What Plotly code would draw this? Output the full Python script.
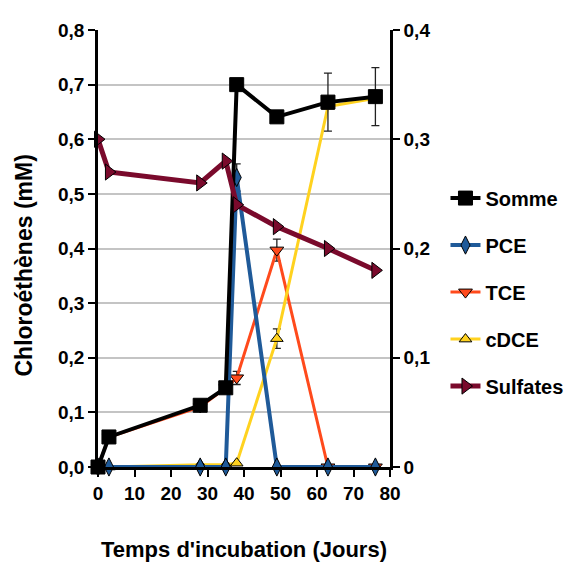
import plotly.graph_objects as go

# incubation days
days = [0, 3, 28, 35, 38, 49, 63, 76]

# chloroethenes (mM), left axis
somme = [0.0, 0.055, 0.113, 0.145, 0.70, 0.641, 0.668, 0.678]
pce = [0.0, 0.0, 0.0, 0.0, 0.53, 0.0, 0.0, 0.0]
tce = [0.0, 0.055, 0.110, 0.145, 0.163, 0.397, 0.0, 0.0]
cdce = [0.0, 0.0, 0.004, 0.004, 0.007, 0.235, 0.660, 0.675]

# error bars
somme_err = [None, None, None, None, None, None, 0.053, 0.053]
pce_err = [None, None, None, None, 0.025, None, None, None]
tce_err = [None, None, None, None, 0.012, 0.02, 0.0, 0.0]
cdce_err = [None, None, None, None, None, 0.018, None, None]

# sulfates, right axis
sulfates = [0.30, 0.27, 0.26, 0.28, 0.24, 0.22, 0.20, 0.18]

FONT = "Liberation Sans, Arial, sans-serif"


def make_trace(y, name, color, symbol, size, width, rank, err=None, yaxis="y"):
    tr = go.Scatter(
        x=days, y=y, name=name, mode="lines+markers",
        line=dict(color=color, width=width),
        marker=dict(symbol=symbol, size=size, color=color,
                    line=dict(color="black", width=1)),
        legendrank=rank, legendgroup=name, yaxis=yaxis,
        cliponaxis=False,
    )
    if err is not None:
        tr.error_y = dict(type="data", array=err, visible=True,
                          color="#222222", thickness=1.3, width=4)
    return tr


fig = go.Figure()
fig.add_trace(make_trace(tce, "TCE", "#FF4A1C", "triangle-down", 12, 3, 3, tce_err))
fig.add_trace(make_trace(cdce, "cDCE", "#FFD21F", "triangle-up", 11, 3, 4, cdce_err))
fig.add_trace(make_trace(pce, "PCE", "#1F5A99", "diamond-tall", 13, 4, 2, pce_err))
fig.add_trace(make_trace(somme, "Somme", "black", "square", 14, 4, 1, somme_err))
fig.add_trace(make_trace(sulfates, "Sulfates", "#7A0A2C", "triangle-right", 14, 5, 5, yaxis="y2"))

# y title placed as annotation (it sits a little below the plot centre)
fig.add_annotation(
    text="Chloroéthènes (mM)", textangle=-90, showarrow=False,
    xref="paper", yref="paper", x=-0.255, y=0.46,
    xanchor="center", yanchor="middle",
    font=dict(size=23, family=FONT, color="black", weight="bold"),
)

fig.update_layout(
    width=573, height=565,
    margin=dict(l=90, r=174, t=22, b=106),
    paper_bgcolor="white", plot_bgcolor="white",
    separators=",.",
    font=dict(family=FONT, size=19, color="black", weight="bold"),
    xaxis=dict(
        range=[0, 80], tickvals=list(range(0, 81, 10)),
        showline=True, linecolor="black", linewidth=2.5,
        ticks="outside", ticklen=7, tickwidth=2, tickcolor="black",
        showgrid=False, zeroline=False, automargin=False,
        title=dict(text="Temps d'incubation (Jours)", font=dict(size=22), standoff=40),
    ),
    yaxis=dict(
        range=[0, 0.8], tickvals=[0, 0.1, 0.2, 0.3, 0.4, 0.5, 0.6, 0.7, 0.8],
        tickformat=".1f",
        showline=True, linecolor="black", linewidth=2.5,
        ticks="outside", ticklen=7, tickwidth=2, tickcolor="black",
        showgrid=True, gridcolor="#c4c4c4", gridwidth=1.5, zeroline=False,
        automargin=False,
    ),
    yaxis2=dict(
        range=[0, 0.4], tickvals=[0, 0.1, 0.2, 0.3, 0.4],
        overlaying="y", side="right",
        showline=True, linecolor="black", linewidth=2.5,
        ticks="outside", ticklen=7, tickwidth=2, tickcolor="black",
        showgrid=False, zeroline=False, automargin=False,
    ),
    legend=dict(
        x=1.19, y=0.66, xanchor="left", yanchor="top",
        font=dict(size=20), tracegroupgap=18,
        bgcolor="rgba(0,0,0,0)",
    ),
)

fig.write_html("out.html")
